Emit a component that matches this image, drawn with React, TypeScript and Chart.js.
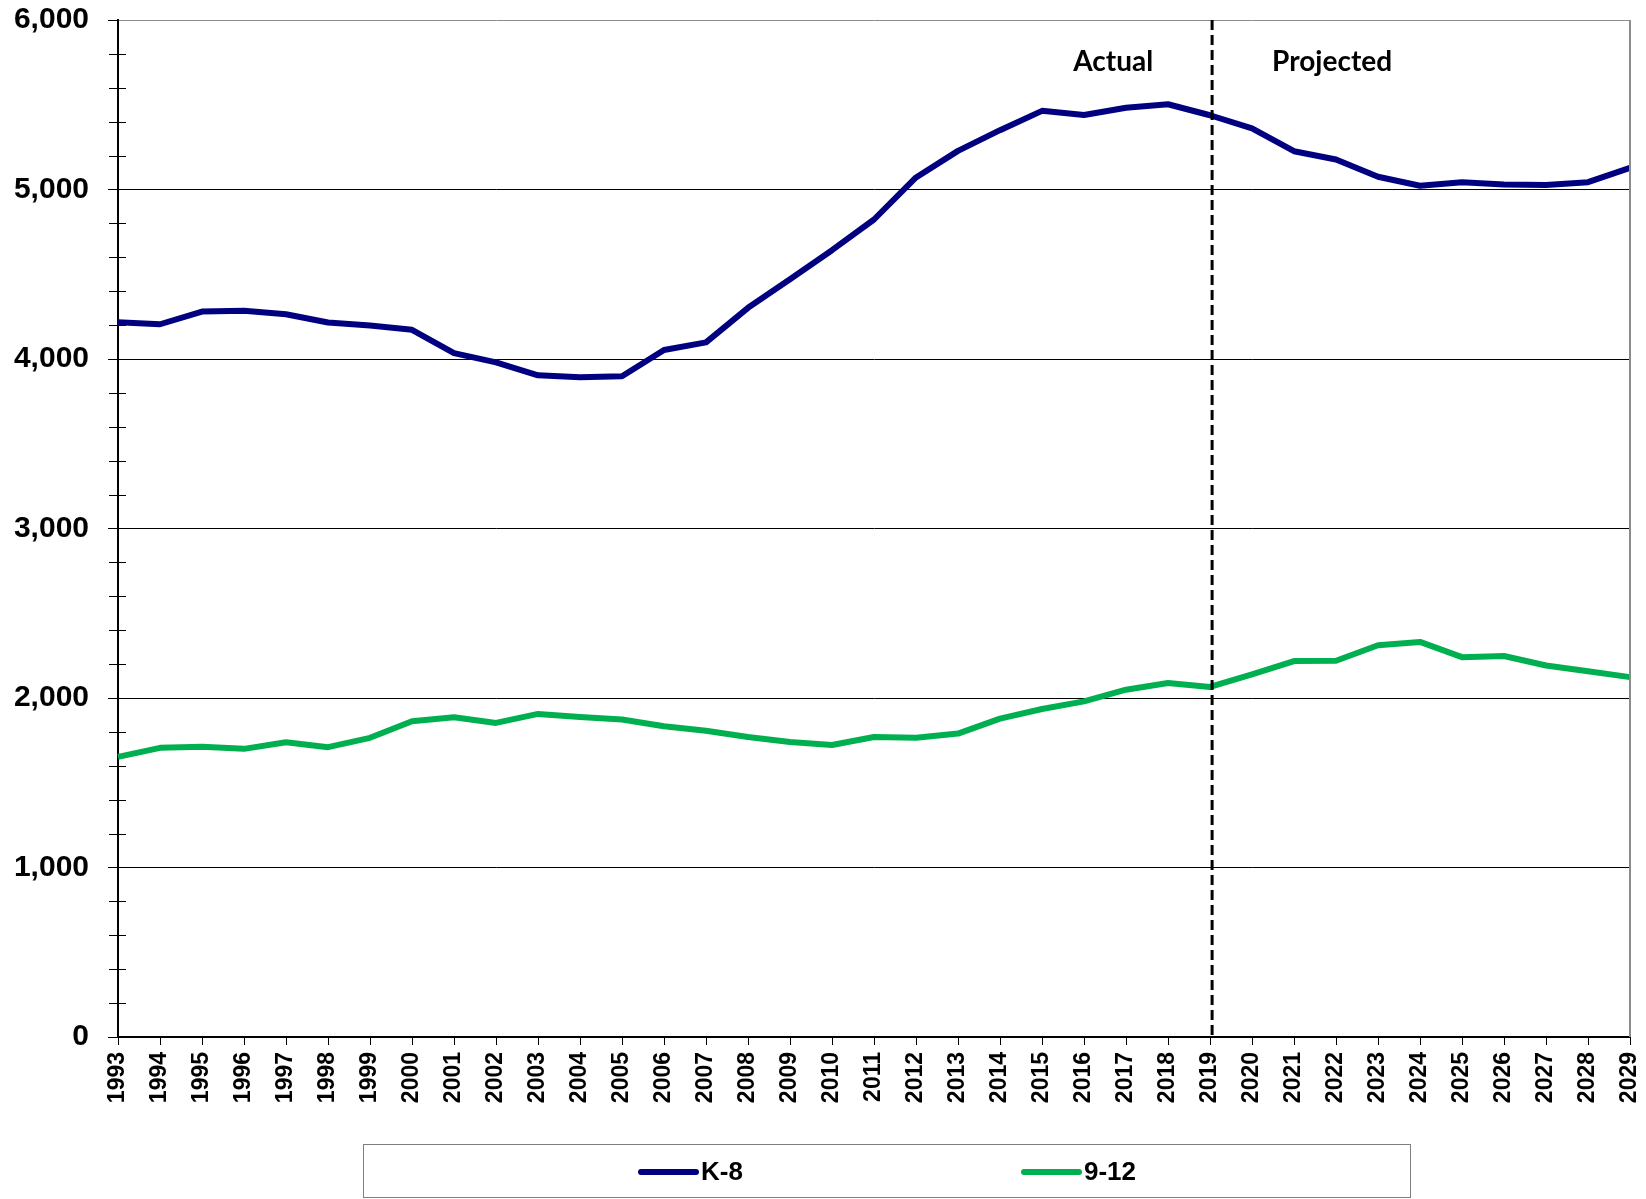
import React, { useEffect, useRef } from "react";
import { Chart, registerables } from "chart.js";

Chart.register(...registerables);

const years = [
  "1993", "1994", "1995", "1996", "1997", "1998", "1999", "2000", "2001", "2002",
  "2003", "2004", "2005", "2006", "2007", "2008", "2009", "2010", "2011", "2012",
  "2013", "2014", "2015", "2016", "2017", "2018", "2019", "2020", "2021", "2022",
  "2023", "2024", "2025", "2026", "2027", "2028", "2029",
];

const k8Values = [
  4217, 4205, 4280, 4285, 4264, 4215, 4197, 4172, 4035, 3980,
  3904, 3892, 3898, 4053, 4098, 4302, 4471, 4642, 4823, 5071,
  5228, 5350, 5464, 5440, 5482, 5503, 5438, 5360, 5226, 5177,
  5075, 5022, 5043, 5029, 5026, 5043, 5128,
];

const g912Values = [
  1653, 1706, 1712, 1700, 1739, 1710, 1765, 1863, 1886, 1853,
  1906, 1888, 1873, 1833, 1807, 1770, 1740, 1723, 1770, 1766,
  1790, 1878, 1935, 1980, 2049, 2089, 2065, 2139, 2218, 2220,
  2311, 2331, 2241, 2248, 2192, 2158, 2123,
];

const seriesNames = ["K-8", "9-12"];
const seriesColors = ["#000080", "#00B050"];
const phaseLabels = ["Actual", "Projected"];
const splitYear = "2019";
const yMax = 6000;
const yStep = 1000;
const yMinorStep = 200;

const W = 1646;
const H = 1199;

export default function App() {
  const ref = useRef<HTMLCanvasElement>(null);

  useEffect(() => {
    const canvas = ref.current;
    if (!canvas) return;

    const overlay = {
      id: "overlay",
      afterDatasetsDraw(chart: any) {
        const ctx = chart.ctx;
        const area = chart.chartArea;
        const xs = chart.scales.x;
        const ys = chart.scales.y;
        ctx.save();
        // minor ticks on y axis
        ctx.strokeStyle = "#000";
        ctx.lineWidth = 1;
        for (let v = yMinorStep; v < yMax; v += yMinorStep) {
          if (v % yStep === 0) continue;
          const py = Math.round(ys.getPixelForValue(v)) + 0.5;
          ctx.beginPath();
          ctx.moveTo(area.left - 9, py);
          ctx.lineTo(area.left + 8, py);
          ctx.stroke();
        }
        // right border
        ctx.strokeStyle = "#8c8c8c";
        ctx.lineWidth = 2;
        ctx.beginPath();
        ctx.moveTo(area.right, area.top);
        ctx.lineTo(area.right, area.bottom);
        ctx.stroke();
        // dashed split line
        const i = years.indexOf(splitYear);
        const p0 = xs.getPixelForValue(i);
        const p1 = xs.getPixelForValue(i + 1);
        const xd = p0 + 0.05 * (p1 - p0);
        ctx.strokeStyle = "#000";
        ctx.lineWidth = 3;
        ctx.setLineDash([10, 5]);
        ctx.beginPath();
        ctx.moveTo(xd, area.top);
        ctx.lineTo(xd, area.bottom);
        ctx.stroke();
        ctx.setLineDash([]);
        // phase labels
        ctx.fillStyle = "#000";
        ctx.font = "bold 28px Lato, 'Open Sans', sans-serif";
        ctx.textBaseline = "middle";
        ctx.textAlign = "right";
        ctx.fillText(phaseLabels[0], xd - 59, area.top + 42);
        ctx.textAlign = "left";
        ctx.fillText(phaseLabels[1], xd + 60, area.top + 42);
        ctx.restore();
      },
      afterDraw(chart: any) {
        const ctx = chart.ctx;
        ctx.save();
        // legend box
        ctx.strokeStyle = "#7f7f7f";
        ctx.lineWidth = 1;
        ctx.strokeRect(363.5, 1144.5, 1047, 53);
        const items = [
          { x: 641, label: seriesNames[0], color: seriesColors[0] },
          { x: 1024, label: seriesNames[1], color: seriesColors[1] },
        ];
        const ly = 1172;
        ctx.font = "bold 26px 'Liberation Sans', Arial, sans-serif";
        ctx.textBaseline = "middle";
        ctx.textAlign = "left";
        items.forEach((it) => {
          ctx.strokeStyle = it.color;
          ctx.lineWidth = 6;
          ctx.lineCap = "round";
          ctx.beginPath();
          ctx.moveTo(it.x, ly);
          ctx.lineTo(it.x + 55, ly);
          ctx.stroke();
          ctx.fillStyle = "#000";
          ctx.fillText(it.label, it.x + 60, ly + 1);
        });
        ctx.restore();
      },
    };

    const labelFont = { family: "'Liberation Sans', Arial, sans-serif", weight: "bold" as const };

    const chart = new Chart(canvas, {
      type: "line",
      data: {
        labels: years,
        datasets: [
          {
            label: seriesNames[0],
            data: k8Values,
            borderColor: seriesColors[0],
            backgroundColor: seriesColors[0],
            borderWidth: 6,
            pointRadius: 0,
            tension: 0,
            borderJoinStyle: "round",
            fill: false,
          },
          {
            label: seriesNames[1],
            data: g912Values,
            borderColor: seriesColors[1],
            backgroundColor: seriesColors[1],
            borderWidth: 6,
            pointRadius: 0,
            tension: 0,
            borderJoinStyle: "round",
            fill: false,
          },
        ],
      },
      options: {
        responsive: false,
        devicePixelRatio: 1,
        animation: false,
        layout: { padding: { top: 20, right: 16, left: 0, bottom: 0 } },
        plugins: {
          legend: { display: false },
          tooltip: { enabled: false },
        },
        scales: {
          x: {
            type: "category",
            offset: false,
            grid: {
              drawOnChartArea: false,
              drawTicks: true,
              tickLength: 8,
              color: "#000",
              tickColor: "#000",
              lineWidth: 1,
            },
            border: { color: "#000", width: 2 },
            ticks: {
              autoSkip: false,
              minRotation: 90,
              maxRotation: 90,
              padding: 7,
              color: "#000",
              font: { ...labelFont, size: 23 },
            },
            afterFit: (s: any) => {
              s.height = 162;
              s.paddingLeft = 0;
              s.paddingRight = 0;
            },
          },
          y: {
            min: 0,
            max: yMax,
            ticks: {
              stepSize: yStep,
              padding: 19,
              color: "#000",
              font: { ...labelFont, size: 30 },
              callback: (v: any) => Number(v).toLocaleString("en-US"),
            },
            grid: {
              color: (c: any) => (c.tick && c.tick.value === yMax ? "#8c8c8c" : "#000"),
              tickColor: "#000",
              tickLength: 10,
              lineWidth: 1,
            },
            border: { color: "#000", width: 2 },
            afterFit: (s: any) => {
              s.width = 118;
              s.paddingTop = 0;
              s.paddingBottom = 0;
            },
          },
        },
      },
      plugins: [overlay],
    });

    return () => chart.destroy();
  }, []);

  return (
    <div style={{ position: "fixed", left: 0, top: 0, width: W, height: H, background: "#fff" }}>
      <canvas ref={ref} width={W} height={H} style={{ width: W, height: H, display: "block" }} />
    </div>
  );
}
